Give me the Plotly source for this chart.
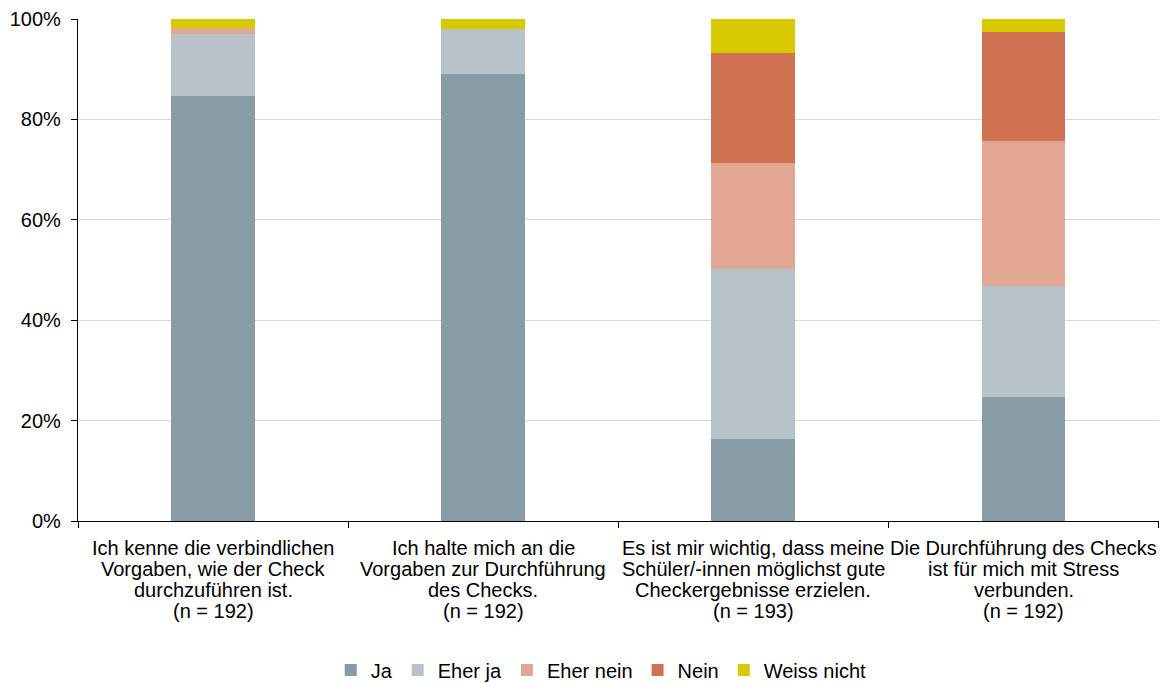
import plotly.graph_objects as go

categories = ["K1", "K2", "K3", "K4"]
category_lines = [
    ["Ich kenne die verbindlichen", "Vorgaben, wie der Check", "durchzuführen ist.", "(n = 192)"],
    ["Ich halte mich an die", "Vorgaben zur Durchführung", "des Checks.", "(n = 192)"],
    ["Es ist mir wichtig, dass meine", "Schüler/-innen möglichst gute", "Checkergebnisse erzielen.", "(n = 193)"],
    ["Die Durchführung des Checks", "ist für mich mit Stress", "verbunden.", "(n = 192)"],
]
ja = [84.7, 89.1, 16.3, 24.7]
eher_ja = [12.4, 9.0, 33.9, 22.1]
eher_nein = [1.1, 0.0, 21.1, 28.9]
nein = [0.0, 0.0, 21.9, 21.7]
weiss_nicht = [1.8, 1.9, 6.8, 2.6]

series = [
    ("Ja", ja, "#889CA6"),
    ("Eher ja", eher_ja, "#B7C3C9"),
    ("Eher nein", eher_nein, "#E2A794"),
    ("Nein", nein, "#D07152"),
    ("Weiss nicht", weiss_nicht, "#D8C800"),
]

FONT = "Liberation Sans, Arial, sans-serif"

fig = go.Figure()
for name, vals, col in series:
    fig.add_trace(go.Bar(x=categories, y=vals, name=name,
                         marker=dict(color=col, line=dict(width=0)),
                         width=0.31))

annotations = []
for cat, lines in zip(categories, category_lines):
    for j, line in enumerate(lines):
        annotations.append(dict(
            x=cat, xref="x", y=0, yref="paper", yanchor="middle", xanchor="center",
            yshift=-(27 + 21 * j), text=line, showarrow=False,
            font=dict(family=FONT, size=20, color="#000000"),
        ))

fig.update_layout(
    barmode="stack",
    width=1167, height=683,
    margin=dict(l=78, r=8, t=19, b=162, autoexpand=False),
    paper_bgcolor="white", plot_bgcolor="white",
    font=dict(family=FONT, size=20, color="#000000"),
    legend=dict(orientation="h", x=0.484, xanchor="center", y=-0.297, yanchor="middle",
                font=dict(size=20), traceorder="normal", itemwidth=30,
                bgcolor="rgba(0,0,0,0)"),
    showlegend=True,
    annotations=annotations,
)
fig.update_xaxes(
    type="category", showline=True, linecolor="#000000", linewidth=1.3,
    ticks="outside", tickson="boundaries", ticklen=6, tickcolor="#000000",
    showgrid=False, showticklabels=False, automargin=False,
)
fig.update_yaxes(
    range=[0, 100], dtick=20, ticksuffix="%", showline=True, linecolor="#000000",
    linewidth=1.3, ticks="outside", ticklen=6, tickcolor="#000000",
    showgrid=True, gridcolor="#D9D9D9", gridwidth=1, zeroline=False,
    automargin=False, tickfont=dict(size=20), ticklabelstandoff=6,
)

fig.write_html("out.html",
               config={"displayModeBar": False},
               post_script="document.body.style.margin='0';document.body.style.overflow='hidden';")
